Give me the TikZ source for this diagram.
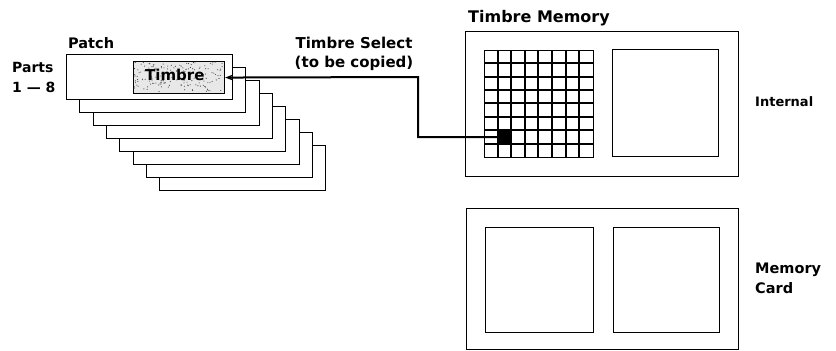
\documentclass[tikz,border=0pt]{standalone}
\usepackage{fontspec}
\setmainfont{DejaVu Sans}
\usetikzlibrary{calc,arrows.meta}
\begin{document}
\begin{tikzpicture}[x=1pt,y=-1pt,
  card/.style={draw, fill=white, line width=1.1pt, minimum width=166pt, minimum height=45pt, anchor=north west, inner sep=0pt},
  frame/.style={draw, line width=1.1pt, anchor=north west, inner sep=0pt},
  gridline/.style={line width=1.2pt},
  lbl/.style={anchor=base west, inner sep=0pt, font=\bfseries\fontsize{#1}{#1}\selectfont},
  lbl/.default=14,
  clbl/.style={anchor=base, inner sep=0pt, font=\bfseries\fontsize{#1}{#1}\selectfont},
  clbl/.default=14,
  conn/.style={line width=2pt, -{Stealth[length=8pt,width=6pt]}}]
\useasboundingbox (0,0) rectangle (836,351);
% stack of patch cards
\foreach \x/\y [count=\i from 0] in {66/54,79/67,93/80,106/93,119/106,133/119,146/132,159/145} {
  \coordinate (p\i) at (\x,\y);
}
\foreach \i in {7,6,...,0} {
  \node[card] (card\i) at (p\i) {};
}
% timbre box in front card
\node[frame, fill=gray!18, minimum width=91pt, minimum height=32pt] (timbre) at (133,61) {};
\begin{scope}
  \clip (timbre.north west) rectangle (timbre.south east);
  \pgfmathsetseed{11}
  \foreach \k in {1,...,170} {
    \pgfmathsetmacro\rx{134+rnd*89}
    \pgfmathsetmacro\ry{62+rnd*30}
    \fill[black!75] (\rx,\ry) circle (0.55);
  }
\end{scope}
\node[lbl=15] (timbretxt) at (145,80) {Timbre};
% labels
\node[lbl=14.5] (patch) at (68,48) {Patch};
\node[lbl=14] (parts1) at (12,72) {Parts};
\node[lbl=14] (parts2) at (12,92) {1 — 8};
\node[clbl=15] (sel1) at (354,48) {Timbre Select};
\node[clbl=15] (sel2) at (354,67) {(to be copied)};
\node[lbl=16] (tmem) at (468,22) {Timbre Memory};
\node[lbl=13] (internal) at (755,106) {Internal};
\node[lbl=14.5] (mc1) at (755,273) {Memory};
\node[lbl=14.5] (mc2) at (755,293) {Card};
% internal memory
\node[frame, minimum width=273pt, minimum height=145pt] (intbox) at (465,31) {};
\node[frame, line width=1.3pt, minimum width=109pt, minimum height=107pt] (grid) at (484,50) {};
\foreach \gx in {498,511,525,538,552,566,579} {
  \draw[gridline] (\gx,50) -- (\gx,157);
}
\foreach \gy in {63,77,90,103,117,130,144} {
  \draw[gridline] (484,\gy) -- (593,\gy);
}
\node[fill=black, inner sep=0pt, minimum width=13pt, minimum height=14pt, anchor=north west] (selcell) at (498,130) {};
\node[frame, minimum width=106pt, minimum height=107pt] (intsq) at (612,49) {};
% memory card
\node[frame, minimum width=272pt, minimum height=141pt] (cardbox) at (466,208) {};
\node[frame, minimum width=108pt, minimum height=105pt] (cardsq1) at (485,227) {};
\node[frame, minimum width=106pt, minimum height=105pt] (cardsq2) at (613,227) {};
% connector
\coordinate (bend) at (418,77);
\draw[conn] (selcell.west) -| (bend) -- (timbre.east);
\end{tikzpicture}
\end{document}
